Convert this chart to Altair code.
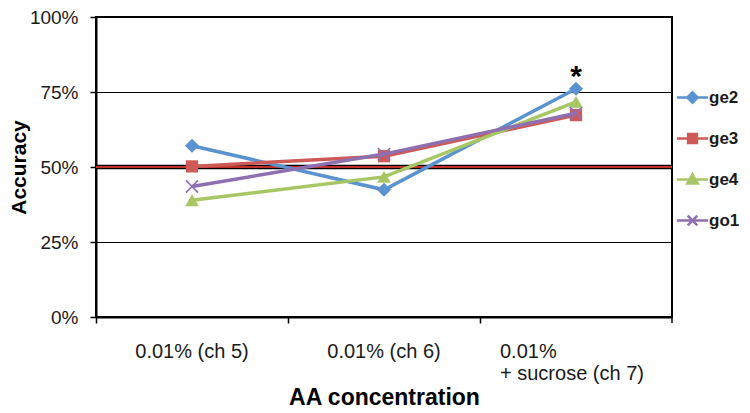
import altair as alt
import pandas as pd
import json

# ---------------- data ----------------
categories = ["ch5", "ch6", "ch7"]
x_labels = [["0.01% (ch 5)"], ["0.01% (ch 6)"], ["0.01%", "+ sucrose (ch 7)"]]
series = ["ge2", "ge3", "ge4", "go1"]
ge2 = [0.571, 0.424, 0.761]
ge3 = [0.502, 0.536, 0.673]
ge4 = [0.389, 0.467, 0.717]
go1 = [0.435, 0.543, 0.679]
values = {"ge2": ge2, "ge3": ge3, "ge4": ge4, "go1": go1}
colors = ["#5A93CF", "#CD5A57", "#A6C764", "#8E70B0"]
marker_shapes = ["diamond", "square", "triangle-up", "M-1,-1L1,1M-1,1L1,-1"]
marker_sizes = [200, 150, 190, 150]
legend_paths = [
    "M-1.95,0H1.95M0,-0.65L0.65,0L0,0.65L-0.65,0Z",
    "M-1.95,0H1.95M-0.55,-0.55H0.55V0.55H-0.55Z",
    "M-1.95,0H1.95M0,-0.65L0.65,0.5H-0.65Z",
    "M-1.95,0H1.95M-0.6,-0.6L0.6,0.6M-0.6,0.6L0.6,-0.6",
]
chance_level = [0.5]
y_ticks = [0, 0.25, 0.5, 0.75, 1.0]
annot_cond = ["ch7"]
annot_acc = [0.761]
annot_text = ["*"]

rows = []
for s in series:
    for c, v in zip(categories, values[s]):
        rows.append({"series": s, "cond": c, "acc": v})
df = pd.DataFrame(rows)

FONT = "Liberation Sans"
W, H = 576, 300

label_expr = " : ".join(
    f"datum.value == '{c}' ? {json.dumps(l)}" for c, l in zip(categories, x_labels)
) + " : datum.label"
multi_test = " || ".join(f"datum.value == '{c}'" for c, l in zip(categories, x_labels) if len(l) > 1)

x_enc = alt.X(
    "cond:N",
    sort=categories,
    scale=alt.Scale(type="band", domain=categories, paddingInner=0, paddingOuter=0),
    axis=alt.Axis(
        title="AA concentration",
        bandPosition=0,
        labelExpr=label_expr,
        labelAngle=0,
        labelAlign={"condition": {"test": multi_test, "value": "left"}, "value": "center"},
        labelOffset={"condition": {"test": multi_test, "value": -76}, "value": 0},
        labelFontSize=20,
        labelFont=FONT,
        labelColor="#1a1a1a",
        labelPadding=18,
        labelLineHeight=22,
        labelOverlap=False,
        labelBound=False,
        tickSize=6,
        tickColor="black",
        tickWidth=1.5,
        domainColor="black",
        domainWidth=2,
        titleFontSize=23,
        titleFont=FONT,
        titleFontWeight="bold",
        titleColor="black",
        titlePadding=3,
        grid=False,
    ),
)
y_enc = alt.Y(
    "acc:Q",
    scale=alt.Scale(domain=[0, 1], nice=False),
    axis=alt.Axis(
        title="Accuracy",
        values=y_ticks,
        format=".0%",
        grid=True,
        gridColor="black",
        gridWidth=1,
        tickSize=6,
        tickColor="black",
        tickWidth=1.5,
        domainColor="black",
        domainWidth=2,
        labelFontSize=19,
        labelFont=FONT,
        labelColor="#1a1a1a",
        labelPadding=12,
        titleFontSize=21,
        titleFont=FONT,
        titleFontWeight="bold",
        titleColor="black",
        titlePadding=0,
    ),
)

base = alt.Chart(df)

chance_df = pd.DataFrame({"acc": chance_level})
chance_black = alt.Chart(chance_df).mark_rule(color="black", strokeWidth=4.5).encode(y="acc:Q")
chance_red = alt.Chart(chance_df).mark_rule(color="#C0302A", strokeWidth=2).encode(y="acc:Q")

# right-most category boundary tick (frame)
edge_tick = alt.Chart(chance_df).mark_rule(color="black", strokeWidth=1.5).encode(
    x=alt.value(W), y=alt.value(H), y2=alt.value(H + 6)
)

layers = [chance_black, chance_red, edge_tick]
for i, s in enumerate(series):
    sub = base.transform_filter(alt.datum.series == s)
    layers.append(sub.mark_line(strokeWidth=3.5, color=colors[i]).encode(x=x_enc, y=y_enc))
    if marker_shapes[i].startswith("M"):
        pts = sub.mark_point(shape=marker_shapes[i], filled=False, size=marker_sizes[i],
                             strokeWidth=1.6, opacity=1, color=colors[i])
    else:
        pts = sub.mark_point(shape=marker_shapes[i], filled=True, size=marker_sizes[i],
                             opacity=1, color=colors[i])
    layers.append(pts.encode(x=x_enc, y=y_enc))

annot_df = pd.DataFrame({"cond": annot_cond, "acc": annot_acc, "text": annot_text})
stars = alt.Chart(annot_df).mark_text(
    fontSize=30, fontWeight="bold", font=FONT, color="black", baseline="middle", dy=-12
).encode(x=x_enc, y=y_enc, text="text:N")
layers.append(stars)

leg = dict(title=None, orient="none", legendX=587, legendY=71)
legend_layer = base.transform_filter("false").mark_point(filled=True, opacity=1).encode(
    shape=alt.Shape("series:N", scale=alt.Scale(domain=series, range=legend_paths), legend=alt.Legend(**leg)),
    fill=alt.Fill("series:N", scale=alt.Scale(domain=series, range=colors), legend=alt.Legend(**leg)),
    stroke=alt.Stroke("series:N", scale=alt.Scale(domain=series, range=colors), legend=alt.Legend(**leg)),
)
layers.append(legend_layer)

chart = (
    alt.layer(*layers)
    .properties(
        width=W,
        height=H,
        autosize=alt.AutoSizeParams(type="none"),
        padding={"left": 88, "top": 9, "right": 70, "bottom": 95},
        background="white",
    )
    .configure_view(stroke="black", strokeWidth=2)
    .configure_legend(
        symbolSize=256,
        symbolStrokeWidth=2.5,
        labelFontSize=17,
        labelFont=FONT,
        labelFontWeight="bold",
        labelColor="#1a1a1a",
        labelOffset=7,
        rowPadding=21,
        padding=0,
    )
)

chart.save("out.html", embed_options={"renderer": "svg", "actions": False})
